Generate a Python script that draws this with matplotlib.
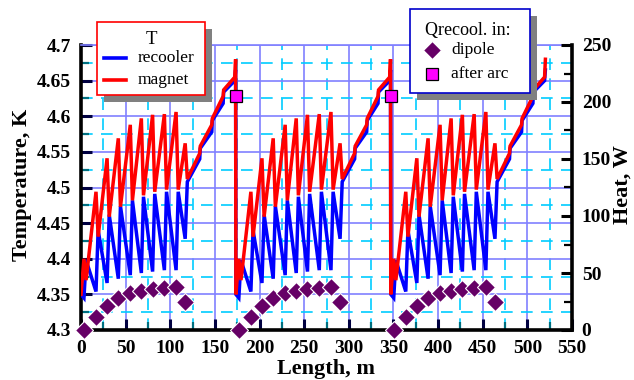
import numpy as np
import matplotlib
matplotlib.use("Agg")
import matplotlib.pyplot as plt
from matplotlib.lines import Line2D
from matplotlib.patches import Rectangle

plt.rcParams["font.family"] = ["Liberation Serif", "DejaVu Serif"]

# one cell profile, repeated at each cell start (metres along the line)
cell_starts = [0.0, 173.5, 347.0]
cell_start_temp = 4.35

# dipole / recooler positions inside a cell
tooth_x = [3.3, 16.8, 29.2, 41.8, 55.2, 67.6, 80.2, 93.4, 106.5, 116.7]
trough_dx = 2.4
magnet_peak = [4.400, 4.494, 4.541, 4.569, 4.588, 4.597, 4.602, 4.603, 4.606, 4.562]
magnet_trough = [4.370, 4.431, 4.459, 4.473, 4.482, 4.489, 4.494, 4.497, 4.497, 4.512]
recooler_min = [4.345, 4.354, 4.366, 4.372, 4.377, 4.380, 4.382, 4.384, 4.384, 4.428]
recooler_peak = [4.398, 4.440, 4.462, 4.474, 4.482, 4.487, 4.491, 4.494, 4.494, 4.508]

# arc end: steady rise with small steps
stair_x = [133.0, 133.6, 146.5, 147.1, 159.2, 159.8, 172.3, 173.2]
stair_magnet = [4.548, 4.558, 4.588, 4.597, 4.628, 4.637, 4.655, 4.680]
stair_recooler = [4.540, 4.555, 4.578, 4.594, 4.618, 4.634, 4.650, 4.665]

# heat intercepted by the recoolers
dipole_heat = [0.0, 11.0, 21.0, 28.5, 32.5, 34.2, 36.0, 36.7, 37.5, 24.2]
after_arc_x = [173.5, 347.0]
after_arc_heat = [205.0, 205.0]

W, H = 634, 380


def px(x, y):
    return x / W, 1 - y / H


def cell_curve(start, peaks, troughs, stair):
    xs = [start]
    ys = [cell_start_temp]
    for x, p, t in zip(tooth_x, peaks, troughs):
        xs += [start + x, start + x + trough_dx]
        ys += [p, t]
    xs += [start + s for s in stair_x]
    ys += list(stair)
    return xs, ys


mag_x, mag_y, rec_x, rec_y = [], [], [], []
for c in cell_starts:
    x, y = cell_curve(c, magnet_peak, magnet_trough, stair_magnet)
    mag_x += x
    mag_y += y
    x, y = cell_curve(c, recooler_min, recooler_peak, stair_recooler)
    rec_x += x
    rec_y += y

dip_x = [c + x for c in cell_starts for x in tooth_x]
dip_q = [q for c in cell_starts for q in dipole_heat]

fig = plt.figure(figsize=(6.34, 3.80), dpi=100)
ax = fig.add_axes([81 / W, 50 / H, 491 / W, 285 / H])
ax2 = ax.twinx()

blue, red = "#0000ff", "#ff0000"
ax.plot(rec_x, rec_y, color=blue, lw=2.5, zorder=3, solid_joinstyle="miter")
ax.plot(mag_x, mag_y, color=red, lw=2.5, zorder=4, solid_joinstyle="miter")

ax.set_xlim(0, 550)
ax.set_ylim(4.3, 4.7)
ax.set_xticks(np.arange(0, 551, 50))
ax.set_xticks(np.arange(25, 550, 50), minor=True)
ax.set_yticks(np.arange(4.3, 4.701, 0.05))
ax.set_yticks(np.arange(4.325, 4.7, 0.05), minor=True)
ax.set_yticklabels(["4.3", "4.35", "4.4", "4.45", "4.5", "4.55", "4.6", "4.65", "4.7"])
ax.grid(which="major", color="#8080ff", lw=1.2, ls="-", zorder=0)
ax.grid(which="minor", color="#00ccff", lw=1.2, ls=(0, (7, 5)), zorder=0)
ax.set_axisbelow(True)

for lab in ax.get_xticklabels() + ax.get_yticklabels():
    lab.set_fontweight("bold")
ax.tick_params(which="major", direction="in", length=8, width=2.2, color="#000040",
               labelsize=14, pad=7)
ax.tick_params(which="minor", direction="in", length=6, width=1.6, color="#007080")
ax.tick_params(axis="y", right=False)

for side in ("left", "bottom"):
    ax.spines[side].set_linewidth(2.6)
ax.spines["right"].set_visible(False)
ax.spines["top"].set_color("#8080ff")
ax.spines["top"].set_linewidth(1.2)

ax2.set_ylim(0, 250)
ax2.set_yticks(np.arange(0, 251, 50))
ax2.set_yticks(np.arange(25, 250, 50), minor=True)
ax2.tick_params(which="major", direction="in", length=8, width=2.2, color="black",
                labelsize=14, pad=7)
ax2.tick_params(which="minor", direction="in", length=6, width=1.6, color="black")
for lab in ax2.get_yticklabels():
    lab.set_fontweight("bold")
for side in ("left", "top", "bottom"):
    ax2.spines[side].set_visible(False)
ax2.spines["right"].set_linewidth(2.6)

dip_style = dict(marker="D", ms=9.5, mfc="#660066", mec="white", mew=0.8, ls="none")
arc_style = dict(marker="s", ms=8.5, mfc="#ff00ff", mec="black", mew=0.9, ls="none")
ax2.plot(dip_x, dip_q, clip_on=False, zorder=5, **dip_style)
ax2.plot(after_arc_x, after_arc_heat, clip_on=False, zorder=5, **arc_style)

label_font = dict(fontsize=16, fontweight="bold")
fig.text(*px(22, 185), "Temperature, K", rotation=90, ha="center", va="center", **label_font)
fig.text(*px(623, 185), "Heat, W", rotation=90, ha="center", va="center", **label_font)
fig.text(*px(326, 379), "Length, m", ha="center", va="bottom", **label_font)


def legend_box(x0, y0, x1, y1, edge):
    sx, sy = px(x0 + 7, y1 + 7)
    fig.add_artist(Rectangle((sx, sy), (x1 - x0) / W, (y1 - y0) / H,
                             transform=fig.transFigure, fc="#808080", ec="none"))
    bx, by = px(x0, y1)
    fig.add_artist(Rectangle((bx, by), (x1 - x0) / W, (y1 - y0) / H,
                             transform=fig.transFigure, fc="white", ec=edge, lw=1.2))


leg_font = dict(fontsize=12.5, va="center", ha="left")

# temperature legend
legend_box(97, 22, 205, 95, red)
fig.text(*px(151, 39), "T", ha="center", va="center", fontsize=13.5)
for y, col, name in ((58, blue, "recooler"), (80, red, "magnet")):
    x1, yy = px(104, y)
    x2, _ = px(126, y)
    fig.add_artist(Line2D([x1, x2], [yy, yy], transform=fig.transFigure, color=col, lw=2.6))
    fig.text(*px(138, y), name, **leg_font)

# heat legend
legend_box(410, 9, 530, 93, "#0000cc")
fig.text(*px(425, 30), "Qrecool. in:", ha="left", va="center", fontsize=13)
for y, style, name in ((50, dip_style, "dipole"), (74, arc_style, "after arc")):
    mx, my = px(432, y)
    fig.add_artist(Line2D([mx], [my], transform=fig.transFigure, **style))
    fig.text(*px(451, y), name, **leg_font)

fig.savefig("out.png", dpi=100)
